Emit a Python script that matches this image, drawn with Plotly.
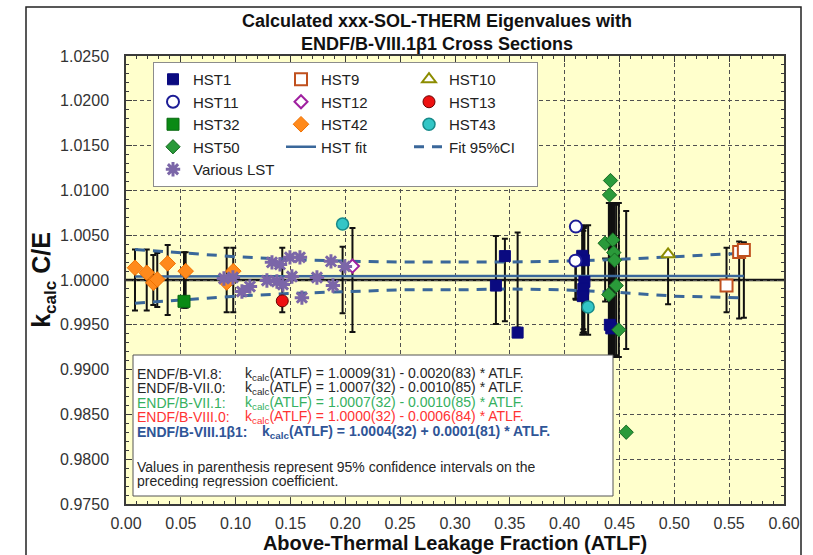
import plotly.graph_objects as go

# ---------------- data ----------------
# ATLF (x), calculated C/E (k) and benchmark 1-sigma uncertainty (unc), per series
hst1_x = [0.3373, 0.3455, 0.3571, 0.4160, 0.4175, 0.4180, 0.4170, 0.4165, 0.4412, 0.4425]
hst1_k = [0.99938, 1.00267, 0.99413, 1.00270, 1.00220, 0.99980, 0.99900, 0.99820, 0.99500, 0.99460]
hst1_unc = [0.0049, 0.0046, 0.0053, 0.0061, 0.0058, 0.0060, 0.0055, 0.0059, 0.0086, 0.0085]

hst9_x = [0.5476, 0.5591, 0.5634]
hst9_k = [0.99938, 1.00312, 1.00335]
hst9_unc = [0.0036, 0.0043, 0.0042]

hst10_x = [0.4943]
hst10_k = [1.00287]
hst10_unc = [0.0027]

hst11_x = [0.4102, 0.4098]
hst11_k = [1.00596, 1.00216]
hst11_unc = [0.0022, 0.0021]

hst12_x = [0.2065]
hst12_k = [1.00155]
hst12_unc = [0.0058]

hst13_x = [0.1425]
hst13_k = [0.99767]
hst13_unc = [0.0036]

hst32_x = [0.0529]
hst32_k = [0.99762]
hst32_unc = [0.0031]

hst42_x = [0.0082, 0.0189, 0.0249, 0.0285, 0.0380, 0.0544, 0.0918, 0.0978]
hst42_k = [1.00137, 1.00081, 0.99969, 1.00006, 1.00185, 1.00099, 0.99972, 1.00099]
hst42_unc = [0.0034, 0.0034, 0.0028, 0.0030, 0.0039, 0.0031, 0.0036, 0.0036]

hst43_x = [0.1975, 0.4214]
hst43_k = [1.00624, 0.99699]
hst43_unc = [0.0037, 0.0061]

hst50_x = [0.4418, 0.4409, 0.4369, 0.4439, 0.4448, 0.4455, 0.4470, 0.4403, 0.4494, 0.4561]
hst50_k = [1.01110, 1.00950, 1.00410, 1.00447, 1.00306, 1.00222, 0.99938, 0.99837, 0.99444, 0.98301]
hst50_unc = [0.0086, 0.0086, 0.0024, 0.0086, 0.0085, 0.0086, 0.0084, 0.0086, 0.0086, 0.0077]

lst_x = [0.0893, 0.0975, 0.1057, 0.1130, 0.1285, 0.1331, 0.1376, 0.1404, 0.1431,
         0.1495, 0.1513, 0.1586, 0.1604, 0.1741, 0.1869, 0.1887, 0.1996]
lst_k = [1.00017, 1.00028, 0.99871, 0.99927, 0.99994, 1.00197, 0.99983, 1.00174, 0.99949,
         1.00253, 1.00039, 1.00253, 0.99803, 1.00028, 1.00208, 0.99938, 1.00152]

# HST regression k(ATLF) = 1.0004 + 0.0001*ATLF, over the HST ATLF span
fit_intercept = 1.0004
fit_slope = 0.0001
fit_x = [0.0082, 0.5634]

# 95% confidence band of the fit
ci_x = [0.0082, 0.05, 0.10, 0.15, 0.20, 0.25, 0.30, 0.35, 0.40, 0.45, 0.50, 0.5634]
ci_hi = [1.0034, 1.0030, 1.0026, 1.0023, 1.0021, 1.0020, 1.0020, 1.0020, 1.0021, 1.0023, 1.0026, 1.0030]
ci_lo = [0.9974, 0.9978, 0.9982, 0.9985, 0.9987, 0.9989, 0.9989, 0.9990, 0.9989, 0.9986, 0.9982, 0.9980]

REF_LEVEL = 1.0

x_ticks = [0.00, 0.05, 0.10, 0.15, 0.20, 0.25, 0.30, 0.35, 0.40, 0.45, 0.50, 0.55, 0.60]
y_ticks = [0.9750, 0.9800, 0.9850, 0.9900, 0.9950, 1.0000, 1.0050, 1.0100, 1.0150, 1.0200, 1.0250]

eq_rows = [
    ("ENDF/B-VI.8:", "k<sub>calc</sub>(ATLF) = 1.0009(31) - 0.0020(83) * ATLF.", "#262626", False),
    ("ENDF/B-VII.0:", "k<sub>calc</sub>(ATLF) = 1.0007(32) - 0.0010(85) * ATLF.", "#262626", False),
    ("ENDF/B-VII.1:", "k<sub>calc</sub>(ATLF) = 1.0007(32) - 0.0010(85) * ATLF.", "#35B060", False),
    ("ENDF/B-VIII.0:", "k<sub>calc</sub>(ATLF) = 1.0000(32) - 0.0006(84) * ATLF.", "#FF3333", False),
    ("ENDF/B-VIII.1β1:", "k<sub>calc</sub>(ATLF) = 1.0004(32) + 0.0001(81) * ATLF.", "#2F5597", True),
]
note_lines = [
    "Values in parenthesis represent 95% confidence intervals on the",
    "preceding regression coefficient.",
]

FONT = "Liberation Sans, Arial, sans-serif"
FIT_BLUE = "#3A679A"

# ---------------- figure ----------------
fig = go.Figure()

# benchmark uncertainty bars, drawn about C/E = 1
bar_x, bar_u = [], []
for xs, us in [(hst1_x, hst1_unc), (hst9_x, hst9_unc), (hst10_x, hst10_unc), (hst11_x, hst11_unc),
               (hst12_x, hst12_unc), (hst13_x, hst13_unc), (hst32_x, hst32_unc), (hst42_x, hst42_unc),
               (hst43_x, hst43_unc), (hst50_x, hst50_unc)]:
    bar_x += xs
    bar_u += us
fig.add_trace(go.Scatter(
    x=bar_x, y=[REF_LEVEL] * len(bar_x), mode="markers",
    marker=dict(size=1, color="rgba(0,0,0,0)"),
    error_y=dict(type="data", array=bar_u, visible=True, color="#111111", thickness=2, width=3),
    showlegend=False, hoverinfo="skip"))

# regression line and its 95% band
fig.add_trace(go.Scatter(
    x=fit_x, y=[fit_intercept + fit_slope * v for v in fit_x], mode="lines",
    line=dict(color=FIT_BLUE, width=2.5), name="HST fit",
    legendgroup="c2", legendrank=14))
fig.add_trace(go.Scatter(
    x=ci_x + [None] + ci_x, y=ci_hi + [None] + ci_lo, mode="lines",
    line=dict(color=FIT_BLUE, width=3, dash="10px,8px"), name="Fit 95%CI",
    legendgroup="c3", legendrank=24))

series = [
    ("HST1", hst1_x, hst1_k, "square", 11, "#0A0A80", "#0A0A80", 1, "c1", 1),
    ("HST9", hst9_x, hst9_k, "square", 12, "white", "#C0501E", 2, "c2", 11),
    ("HST10", hst10_x, hst10_k, "triangle-up", 12, "white", "#8C8C00", 2, "c3", 21),
    ("HST11", hst11_x, hst11_k, "circle", 12, "white", "#1C1C96", 2, "c1", 2),
    ("HST12", hst12_x, hst12_k, "diamond", 10, "white", "#A020A0", 2, "c2", 12),
    ("HST13", hst13_x, hst13_k, "circle", 12, "#EE1111", "#6A0000", 1, "c3", 22),
    ("HST32", hst32_x, hst32_k, "square", 12, "#0A8A14", "#0A6A10", 1, "c1", 3),
    ("HST42", hst42_x, hst42_k, "diamond", 12, "#FF8A1C", "#F07000", 1, "c2", 13),
    ("HST43", hst43_x, hst43_k, "circle", 12, "#33C6C6", "#178A8A", 1.5, "c3", 23),
    ("HST50", hst50_x, hst50_k, "diamond", 11, "#2A9A3A", "#176A22", 1, "c1", 4),
]
for name, xs, ks, sym, size, fill, edge, lw, grp, rank in series:
    fig.add_trace(go.Scatter(
        x=xs, y=ks, mode="markers", name=name,
        marker=dict(symbol=sym, size=size, color=fill, line=dict(color=edge, width=lw)),
        legendgroup=grp, legendrank=rank))

fig.add_trace(go.Scatter(
    x=lst_x, y=lst_k, mode="markers", name="Various LST",
    marker=dict(symbol="asterisk-open", size=12, color="#7B66A8", line=dict(color="#7B66A8", width=3)),
    legendgroup="c1", legendrank=5))

# ---------------- layout ----------------
axis_common = dict(
    showline=True, linecolor="#3A3A3A", linewidth=1.5, mirror="ticks",
    ticks="inside", ticklen=6, tickcolor="#3A3A3A", tickwidth=1,
    showgrid=True, gridcolor="#505050", gridwidth=1, griddash="4px,3px",
    zeroline=False, automargin=False,
    tickfont=dict(family=FONT, size=16, color="#333333"),
)

fig.update_layout(
    width=813, height=555,
    margin=dict(l=126, r=29, t=56, b=51),
    paper_bgcolor="white", plot_bgcolor="#FFFFCC",
    font=dict(family=FONT, color="#222222"),
    title=dict(
        text="Calculated xxx-SOL-THERM Eigenvalues with<br>ENDF/B-VIII.1β1 Cross Sections",
        font=dict(family=FONT, size=18, color="#111111", weight="bold"),
        x=437 / 813, xref="container", xanchor="center",
        y=1 - 27 / 555, yref="container", yanchor="middle"),
    xaxis=dict(
        range=[0, 0.6], tickvals=x_ticks, tickformat=".2f", ticklabelstandoff=4,
        minor=dict(ticks="inside", ticklen=3, dtick=0.01, tickcolor="#3A3A3A", showgrid=False),
        title=dict(text="Above-Thermal Leakage Fraction (ATLF)", standoff=0,
                   font=dict(family=FONT, size=20, color="#111111", weight="bold")),
        **axis_common),
    yaxis=dict(
        range=[0.975, 1.025], tickvals=y_ticks, tickformat=".4f", ticklabelstandoff=12,
        minor=dict(ticks="inside", ticklen=3, dtick=0.001, tickcolor="#3A3A3A", showgrid=False),
        title=dict(text="k<sub><span style='font-size:17px'>calc</span></sub> C/E", standoff=2,
                   font=dict(family=FONT, size=25, color="#111111", weight="bold")),
        **axis_common),
    legend=dict(
        x=(153 - 126) / 658, y=(504 - 62) / 448, xanchor="left", yanchor="top",
        orientation="h", traceorder="grouped", entrywidth=83, tracegroupgap=0,
        bgcolor="white", bordercolor="#8C8C8C", borderwidth=1,
        font=dict(family=FONT, size=15, color="#222222")),
    showlegend=True,
)

def px_x(p):
    return (p - 126) / 658

def px_y(p):
    return (504 - p) / 448

shapes = [
    # reference level C/E = 1
    dict(type="line", xref="paper", x0=0, x1=1, yref="y", y0=REF_LEVEL, y1=REF_LEVEL,
         line=dict(color="#151515", width=2.5), layer="below"),
    # regression summary box
    dict(type="rect", xref="paper", yref="paper", x0=px_x(133), x1=px_x(613),
         y0=px_y(496), y1=px_y(355), fillcolor="white", line=dict(color="#555555", width=1),
         layer="above"),
    # chart frame
    dict(type="rect", xref="paper", yref="paper", x0=px_x(26), x1=px_x(801),
         y0=px_y(570), y1=px_y(7), fillcolor="rgba(0,0,0,0)", line=dict(color="#222222", width=1.5),
         layer="below"),
]
fig.update_layout(shapes=shapes)

row_y = [373.5, 388, 402.5, 417, 431.5]
for (label, eq, color, bold), yy in zip(eq_rows, row_y):
    fnt = dict(family=FONT, size=14, color=color, weight="bold" if bold else "normal")
    fig.add_annotation(x=px_x(135), y=px_y(yy), xref="paper", yref="paper", text=label,
                       showarrow=False, xanchor="left", yanchor="middle", font=fnt,
                       height=14, valign="middle")
    fig.add_annotation(x=px_x(260 if bold else 243), y=px_y(yy), xref="paper", yref="paper", text=eq,
                       showarrow=False, xanchor="left", yanchor="middle", font=fnt,
                       height=14, valign="middle")
for line, yy in zip(note_lines, [466.5, 480.5]):
    fig.add_annotation(x=px_x(135), y=px_y(yy), xref="paper", yref="paper", text=line,
                       showarrow=False, xanchor="left", yanchor="middle",
                       font=dict(family=FONT, size=14, color="#262626"),
                       height=14, valign="middle")

fig.write_html("out.html")
